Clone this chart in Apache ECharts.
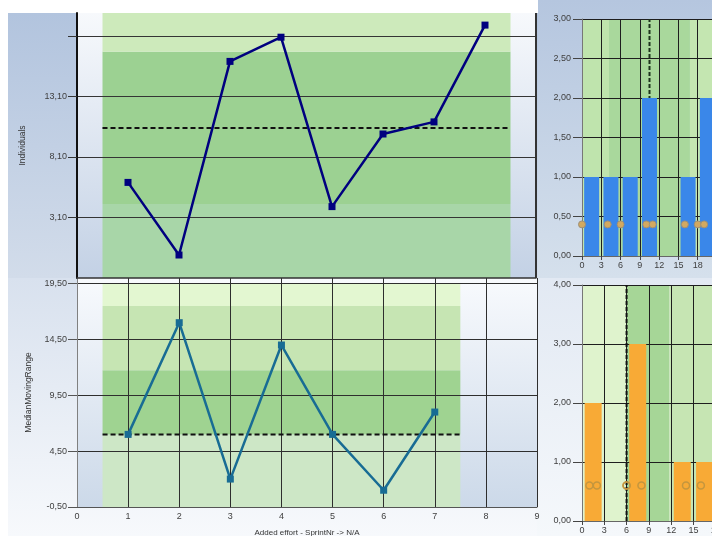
<!DOCTYPE html>
<html>
<head>
<meta charset="utf-8">
<script src="https://cdn.jsdelivr.net/npm/echarts@6.0.0/dist/echarts.min.js"></script>
<style>
html,body{margin:0;padding:0;background:#ffffff;}
#chart{width:712px;height:536px;}
</style>
</head>
<body>
<div id="chart"></div>
<script>
// ---------------- data ----------------
const sprintNr = [1, 2, 3, 4, 5, 6, 7, 8];
const individuals = [6, 0, 16, 18, 4, 10, 11, 19];
const mrSprintNr = [1, 2, 3, 4, 5, 6, 7];
const movingRange = [6, 16, 2, 14, 6, 1, 8];
const individualsMean = 10.5;
const individualsLimits = [4.21, 16.79, 23.08];
const mrMedian = 6;
const mrLimits = [11.75, 17.5, 19.5];
const indivHistBinStart = [0, 3, 6, 9, 12, 15, 18];
const indivHistCount = [1, 1, 1, 2, 0, 1, 2];
const mrHistBinStart = [0, 3, 6, 9, 12, 15, 18];
const mrHistCount = [2, 0, 3, 0, 1, 1, 0];
const binWidth = 3;
const indivTickValues = [3.1, 8.1, 13.1, 18.1];
const indivTickLabels = [3.1, 8.1, 13.1];
const mrTickValues = [-0.5, 4.5, 9.5, 14.5, 19.5];

// ---------------- helpers ----------------
const FONT = 'Liberation Sans, Arial, sans-serif';
const fmt = v => v.toFixed(2).replace('.', ',');
const vgrad = (a, b) => new echarts.graphic.LinearGradient(0, 0, 0, 1, [{offset: 0, color: a}, {offset: 1, color: b}]);

function bandRender(colors) {
  return function (params, api) {
    const p0 = api.coord([api.value(0), api.value(3)]);
    const p1 = api.coord([api.value(1), api.value(2)]);
    const cs = params.coordSys;
    const r = echarts.graphic.clipRectByRect(
      {x: p0[0], y: p0[1], width: p1[0] - p0[0], height: p1[1] - p0[1]},
      {x: cs.x, y: cs.y, width: cs.width, height: cs.height});
    return r && {type: 'rect', shape: r, style: {fill: colors[params.dataIndex]}};
  };
}

const x0 = sprintNr[0] - 0.5, x1 = sprintNr[sprintNr.length - 1] + 0.5;
const mx0 = mrSprintNr[0] - 0.5, mx1 = mrSprintNr[mrSprintNr.length - 1] + 0.5;

const topYMin = -1.9, topYMax = 20;
const botYMin = -0.5, botYMax = 20;
const h1Max = 24, h2Max = 21;

const indivBands = [
  [x0, x1, topYMin, individualsLimits[0]],
  [x0, x1, individualsLimits[0], individualsLimits[1]],
  [x0, x1, individualsLimits[1], individualsLimits[2]]
];
const mrBands = [
  [mx0, mx1, botYMin, mrMedian],
  [mx0, mx1, mrMedian, mrLimits[0]],
  [mx0, mx1, mrLimits[0], mrLimits[1]],
  [mx0, mx1, mrLimits[1], mrLimits[2]]
];
const h1Bands = [
  [0, individualsLimits[0], 0, 3],
  [individualsLimits[0], individualsLimits[1], 0, 3],
  [individualsLimits[1], h1Max, 0, 3]
];
const h2Bands = [
  [0, mrMedian, 0, 4],
  [mrMedian, mrLimits[0], 0, 4],
  [mrLimits[0], mrLimits[1], 0, 4],
  [mrLimits[1], h2Max, 0, 4]
];

const labelStyle = {color: '#404040', fontSize: 9, fontFamily: FONT};
const nameStyle = {color: '#333333', fontSize: 8.5, fontFamily: FONT};
const grid = '#2e2e2e';

const chart = echarts.init(document.getElementById('chart'), null, {renderer: 'canvas'});
chart.setOption({
  animation: false,
  backgroundColor: '#ffffff',
  graphic: [
    {type: 'rect', z: -10, silent: true, shape: {x: 8, y: 13, width: 530, height: 265}, style: {fill: vgrad('#b2c4de', '#d2dcea')}},
    {type: 'rect', z: -10, silent: true, shape: {x: 538, y: 0, width: 174, height: 278}, style: {fill: vgrad('#b5c6df', '#d5e0ec')}},
    {type: 'rect', z: -10, silent: true, shape: {x: 8, y: 278, width: 529, height: 258}, style: {fill: vgrad('#d8e1ee', '#f7f9fc')}},
    {type: 'rect', z: -10, silent: true, shape: {x: 537, y: 278, width: 175, height: 258}, style: {fill: vgrad('#e2e9f3', '#f5f8fb')}}
  ],
  grid: [
    {left: 77, top: 13, width: 459, height: 265, show: true, borderWidth: 0, borderColor: 'transparent', backgroundColor: vgrad('#f7f9fc', '#c3d1e5'), z: -2, outerBoundsMode: 'none', containLabel: false},
    {left: 77, top: 278, width: 460, height: 229, show: true, borderWidth: 0, borderColor: 'transparent', backgroundColor: vgrad('#f8fafd', '#ccd9e9'), z: -2, outerBoundsMode: 'none', containLabel: false},
    {left: 582, top: 19, width: 154.3, height: 237, show: false, outerBoundsMode: 'none', containLabel: false},
    {left: 582, top: 285, width: 156, height: 236, show: false, outerBoundsMode: 'none', containLabel: false}
  ],
  xAxis: [
    {gridIndex: 0, type: 'value', min: 0, max: 9, interval: 9,
      axisLine: {show: true, onZero: false, lineStyle: {color: '#333', width: 1.5}},
      axisTick: {show: false}, axisLabel: {show: false},
      splitLine: {show: true, lineStyle: {color: '#333', width: 2}}},
    {gridIndex: 1, type: 'value', min: 0, max: 9, interval: 1,
      name: 'Added effort - SprintNr -> N/A', nameLocation: 'middle', nameGap: 22, nameTextStyle: {color: '#333', fontSize: 8, fontFamily: FONT},
      axisLine: {show: true, onZero: false, lineStyle: {color: '#555', width: 1}},
      axisTick: {show: false}, axisLabel: Object.assign({margin: 5}, labelStyle),
      splitLine: {show: true, lineStyle: {color: grid, width: 1}}},
    {gridIndex: 2, type: 'value', min: 0, max: h1Max, interval: 3,
      axisLine: {show: true, onZero: false, lineStyle: {color: '#666', width: 1}},
      axisTick: {show: true, length: 4, lineStyle: {color: '#444'}}, axisLabel: Object.assign({margin: 5}, labelStyle),
      splitLine: {show: true, lineStyle: {color: '#1e1e1e', width: 1}}},
    {gridIndex: 3, type: 'value', min: 0, max: h2Max, interval: 3,
      axisLine: {show: true, onZero: false, lineStyle: {color: '#666', width: 1}},
      axisTick: {show: true, length: 4, lineStyle: {color: '#444'}}, axisLabel: Object.assign({margin: 5}, labelStyle),
      splitLine: {show: true, lineStyle: {color: '#1e1e1e', width: 1}}}
  ],
  yAxis: [
    {gridIndex: 0, type: 'value', min: topYMin, max: topYMax, interval: 5,
      name: 'Individuals', nameLocation: 'middle', nameGap: 50, nameTextStyle: nameStyle,
      axisLine: {show: true, onZero: false, lineStyle: {color: '#111', width: 2}},
      axisTick: {show: true, length: 9, customValues: indivTickValues, lineStyle: {color: '#333'}},
      axisLabel: Object.assign({margin: 10, customValues: indivTickLabels,
        formatter: v => indivTickLabels.some(t => Math.abs(t - v) < 1e-6) ? fmt(v) : ''}, labelStyle),
      splitLine: {show: true, lineStyle: {color: '#353535', width: 1}}},
    {gridIndex: 1, type: 'value', min: botYMin, max: botYMax, interval: 5,
      name: 'MedianMovingRange', nameLocation: 'middle', nameGap: 42, nameTextStyle: nameStyle,
      axisLine: {show: true, onZero: false, lineStyle: {color: '#808080', width: 1}},
      axisTick: {show: true, length: 9, customValues: mrTickValues, lineStyle: {color: '#555'}},
      axisLabel: Object.assign({margin: 10, showMinLabel: true, customValues: mrTickValues,
        formatter: v => mrTickValues.some(t => Math.abs(t - v) < 1e-6) ? fmt(v) : ''}, labelStyle),
      splitLine: {show: true, lineStyle: {color: grid, width: 1}}},
    {gridIndex: 2, type: 'value', min: 0, max: 3, interval: 0.5,
      axisLine: {show: true, onZero: false, lineStyle: {color: '#777', width: 1}},
      axisTick: {show: true, length: 9, lineStyle: {color: '#444'}},
      axisLabel: Object.assign({margin: 11, showMinLabel: true, showMaxLabel: true, formatter: fmt}, labelStyle),
      splitLine: {show: true, lineStyle: {color: '#1e1e1e', width: 1}}},
    {gridIndex: 3, type: 'value', min: 0, max: 4, interval: 1,
      axisLine: {show: true, onZero: false, lineStyle: {color: '#777', width: 1}},
      axisTick: {show: true, length: 9, lineStyle: {color: '#444'}},
      axisLabel: Object.assign({margin: 11, showMinLabel: true, showMaxLabel: true, formatter: fmt}, labelStyle),
      splitLine: {show: true, lineStyle: {color: '#1e1e1e', width: 1}}}
  ],
  series: [
    // bands
    {type: 'custom', xAxisIndex: 0, yAxisIndex: 0, z: -1, silent: true, data: indivBands,
      renderItem: bandRender(['#a8d6a8', '#9cd192', '#cdeabb'])},
    {type: 'custom', xAxisIndex: 1, yAxisIndex: 1, z: -1, silent: true, data: mrBands,
      renderItem: bandRender(['#cde7c6', '#9fd391', '#c6e5b3', '#e3f7d1'])},
    {type: 'custom', xAxisIndex: 2, yAxisIndex: 2, z: -1, silent: true, data: h1Bands,
      renderItem: bandRender(['#bfe4ad', '#a9d89c', '#c4e6b1'])},
    {type: 'custom', xAxisIndex: 3, yAxisIndex: 3, z: -1, silent: true, data: h2Bands,
      renderItem: bandRender(['#dff3cd', '#a6d697', '#c6e5b3', '#e3f7d1'])},
    // centre lines
    {type: 'line', xAxisIndex: 0, yAxisIndex: 0, z: 1, symbol: 'none', silent: true,
      data: [[x0, individualsMean], [x1, individualsMean]],
      lineStyle: {color: '#111', width: 2, type: [5, 3]}},
    {type: 'line', xAxisIndex: 1, yAxisIndex: 1, z: 1, symbol: 'none', silent: true,
      data: [[mx0, mrMedian], [mx1, mrMedian]],
      lineStyle: {color: '#111', width: 2, type: [5, 3]}},
    {type: 'line', xAxisIndex: 2, yAxisIndex: 2, z: 1, symbol: 'none', silent: true,
      data: [[individualsMean, 0], [individualsMean, 3]],
      lineStyle: {color: '#1d321d', width: 2, type: [4, 2]}},
    {type: 'line', xAxisIndex: 3, yAxisIndex: 3, z: 1, symbol: 'none', silent: true,
      data: [[mrMedian, 0], [mrMedian, 4]],
      lineStyle: {color: '#111', width: 2, type: [4, 2]}},
    // main lines
    {type: 'line', xAxisIndex: 0, yAxisIndex: 0, z: 3, symbol: 'rect', symbolSize: 7, showAllSymbol: true,
      data: sprintNr.map((s, i) => [s, individuals[i]]),
      itemStyle: {color: '#00007f'}, lineStyle: {color: '#00007f', width: 2.5}},
    {type: 'line', xAxisIndex: 1, yAxisIndex: 1, z: 3, symbol: 'rect', symbolSize: 7, showAllSymbol: true,
      data: mrSprintNr.map((s, i) => [s, movingRange[i]]),
      itemStyle: {color: '#186c94'}, lineStyle: {color: '#186c94', width: 2.5}},
    // histograms
    {type: 'bar', xAxisIndex: 2, yAxisIndex: 2, z: 2, barWidth: 15,
      data: indivHistBinStart.map((b, i) => [b + binWidth / 2, indivHistCount[i]]),
      itemStyle: {color: '#3a87e9'}},
    {type: 'bar', xAxisIndex: 3, yAxisIndex: 3, z: 2, barWidth: 17,
      data: mrHistBinStart.map((b, i) => [b + binWidth / 2, mrHistCount[i]]),
      itemStyle: {color: '#f8aa36'}},
    {type: 'scatter', xAxisIndex: 2, yAxisIndex: 2, z: 4, symbol: 'circle', symbolSize: 7,
      data: individuals.map(v => [v, 0.4]),
      itemStyle: {color: '#d3a960', borderColor: '#9c8f78', borderWidth: 1, opacity: 1}},
    {type: 'scatter', xAxisIndex: 3, yAxisIndex: 3, z: 4, symbol: 'circle', symbolSize: 7,
      data: movingRange.map(v => [v, 0.6]),
      itemStyle: {color: 'rgba(0,0,0,0)', borderColor: '#c4963e', borderWidth: 1.5, opacity: 1}}
  ]
});
</script>
</body>
</html>
